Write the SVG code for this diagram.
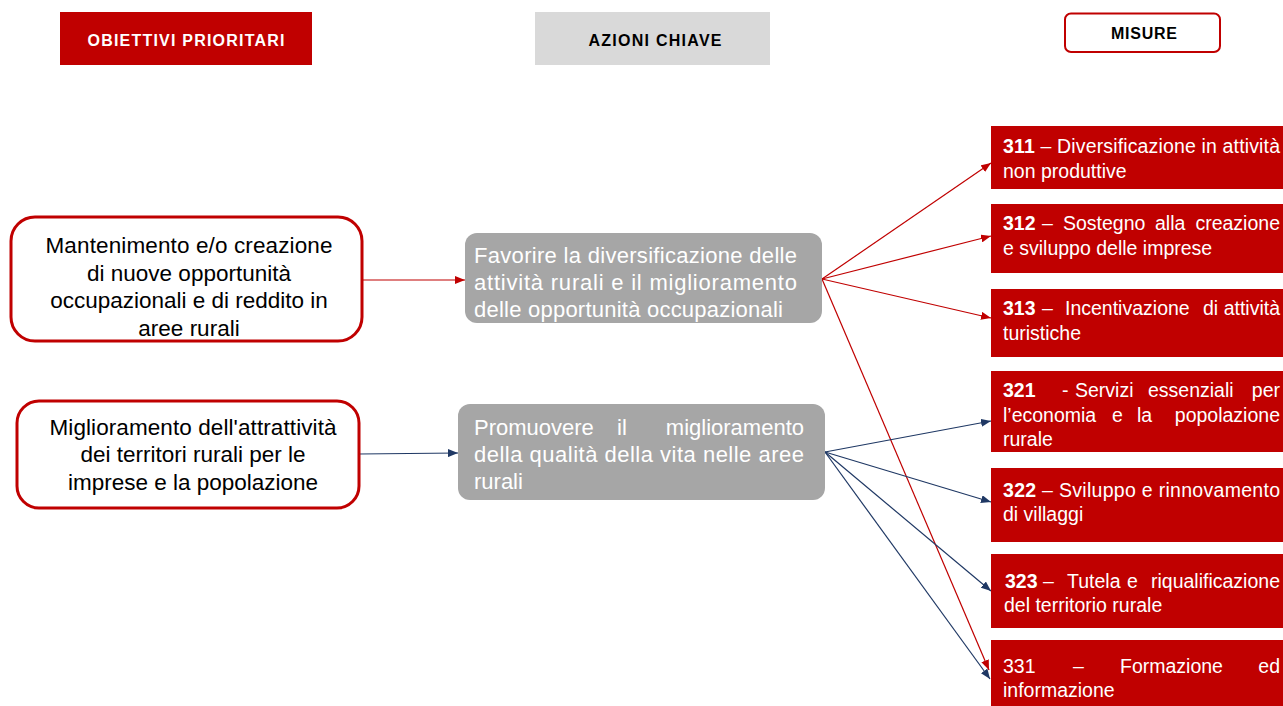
<svg xmlns="http://www.w3.org/2000/svg" width="1283" height="706" viewBox="0 0 1283 706">
<style>
text{font-family:"Liberation Sans",Arial,sans-serif;}
.hd{font-size:16px;font-weight:bold;text-anchor:middle;}
.obj{font-size:22.5px;fill:#000;text-anchor:middle;}
.act{font-size:22px;fill:#fff;}
.mes{font-size:19.5px;fill:#fff;}
.b{font-weight:bold;}
.e{text-anchor:end;}
.objbox{fill:#fff;stroke:#C00000;stroke-width:3;}
.actbox{fill:#A6A6A6;}
.mbox{fill:#C00000;}
.red{stroke:#C00000;stroke-width:1.2;fill:none;marker-end:url(#ar);}
.navy{stroke:#1F3864;stroke-width:1.2;fill:none;marker-end:url(#an);}
</style>
<defs>
<marker id="ar" markerUnits="userSpaceOnUse" markerWidth="10" markerHeight="8" refX="10" refY="4" orient="auto"><path d="M0,0 L10,4 L0,8 z" fill="#C00000"/></marker>
<marker id="an" markerUnits="userSpaceOnUse" markerWidth="10" markerHeight="8" refX="10" refY="4" orient="auto"><path d="M0,0 L10,4 L0,8 z" fill="#1F3864"/></marker>
</defs>
<rect width="1283" height="706" fill="#fff"/>

<g id="hdr-obiettivi">
<rect x="60" y="12" width="252" height="53" fill="#C00000"/>
<text class="hd" x="186" y="46" fill="#fff" textLength="197" lengthAdjust="spacing">OBIETTIVI  PRIORITARI</text>
</g>
<g id="hdr-azioni">
<rect x="535" y="12" width="235" height="53" fill="#D9D9D9"/>
<text class="hd" x="655" y="46" fill="#000" textLength="133" lengthAdjust="spacing">AZIONI  CHIAVE</text>
</g>
<g id="hdr-misure">
<rect x="1065" y="13.5" width="155" height="38.5" rx="6" fill="#fff" stroke="#C00000" stroke-width="2"/>
<text class="hd" x="1144" y="39" fill="#000" textLength="66" lengthAdjust="spacing">MISURE</text>
</g>

<g id="connectors">
<path class="red" d="M362 280 L465 280"/>
<path class="navy" d="M359 454 L458 453"/>
<path class="red" d="M822 279 L991 163"/>
<path class="red" d="M822 279 L991 236"/>
<path class="red" d="M822 279 L991 318"/>
<path class="red" d="M822 279 L989 670"/>
<path class="navy" d="M825 452 L991 421"/>
<path class="navy" d="M825 452 L991 502"/>
<path class="navy" d="M825 452 L991 591"/>
<path class="navy" d="M825 452 L990 679"/>
</g>

<g id="obj1">
<rect class="objbox" x="11" y="217" width="351" height="124" rx="24"/>
<text class="obj"><tspan x="189" y="253" textLength="287" lengthAdjust="spacing">Mantenimento e/o creazione</tspan><tspan x="189" y="280.5">di nuove opportunità</tspan><tspan x="189" y="308">occupazionali e di reddito in</tspan><tspan x="189" y="335.5">aree rurali</tspan></text>
</g>
<g id="obj2">
<rect class="objbox" x="17" y="401" width="342" height="107" rx="22"/>
<text class="obj"><tspan x="193" y="435" textLength="287" lengthAdjust="spacing">Miglioramento dell'attrattività</tspan><tspan x="193" y="462">dei territori rurali per le</tspan><tspan x="193" y="490">imprese e la popolazione</tspan></text>
</g>

<g id="act1">
<rect class="actbox" x="465" y="233" width="357" height="90" rx="12"/>
<text class="act"><tspan x="474" y="263" textLength="323" lengthAdjust="spacing">Favorire la diversificazione delle</tspan><tspan x="474" y="290" textLength="323" lengthAdjust="spacing">attività rurali e il miglioramento</tspan><tspan x="474" y="317" textLength="309" lengthAdjust="spacing">delle opportunità occupazionali</tspan></text>
</g>
<g id="act2">
<rect class="actbox" x="458" y="404" width="367" height="96" rx="12"/>
<text class="act"><tspan x="474" y="435">Promuovere</tspan><tspan x="617" y="435">il</tspan><tspan class="e" x="804" y="435">miglioramento</tspan><tspan x="474" y="462" textLength="330" lengthAdjust="spacing">della qualità della vita nelle aree</tspan><tspan x="474" y="489">rurali</tspan></text>
</g>

<g id="m311">
<rect class="mbox" x="991" y="126" width="292" height="63"/>
<text class="mes"><tspan x="1003" y="153" textLength="277" lengthAdjust="spacing"><tspan class="b">311</tspan> – Diversificazione in attività</tspan><tspan x="1003" y="178">non produttive</tspan></text>
</g>
<g id="m312">
<rect class="mbox" x="991" y="204" width="292" height="69"/>
<text class="mes"><tspan class="b" x="1003" y="230">312</tspan><tspan x="1042" y="230">–</tspan><tspan x="1063" y="230">Sostegno</tspan><tspan x="1155" y="230">alla</tspan><tspan class="e" x="1280" y="230">creazione</tspan><tspan x="1003" y="255">e sviluppo delle imprese</tspan></text>
</g>
<g id="m313">
<rect class="mbox" x="991" y="289" width="292" height="68"/>
<text class="mes"><tspan class="b" x="1003" y="315">313</tspan><tspan x="1042" y="315">–</tspan><tspan x="1065" y="315">Incentivazione</tspan><tspan x="1203" y="315">di</tspan><tspan class="e" x="1280" y="315">attività</tspan><tspan x="1003" y="340">turistiche</tspan></text>
</g>
<g id="m321">
<rect class="mbox" x="991" y="371" width="292" height="81"/>
<text class="mes"><tspan class="b" x="1003" y="397">321</tspan><tspan x="1062" y="397">-</tspan><tspan x="1075" y="397">Servizi</tspan><tspan x="1148" y="397">essenziali</tspan><tspan class="e" x="1280" y="397">per</tspan><tspan x="1003" y="422">l’economia</tspan><tspan x="1112" y="422">e</tspan><tspan x="1137" y="422">la</tspan><tspan class="e" x="1280" y="422">popolazione</tspan><tspan x="1003" y="446">rurale</tspan></text>
</g>
<g id="m322">
<rect class="mbox" x="991" y="468" width="292" height="74"/>
<text class="mes"><tspan x="1003" y="497" textLength="277" lengthAdjust="spacing"><tspan class="b">322</tspan> – Sviluppo e rinnovamento</tspan><tspan x="1003" y="521">di villaggi</tspan></text>
</g>
<g id="m323">
<rect class="mbox" x="991" y="554" width="292" height="74"/>
<text class="mes"><tspan class="b" x="1005" y="588">323</tspan><tspan x="1043" y="588">–</tspan><tspan x="1067" y="588">Tutela</tspan><tspan x="1127" y="588">e</tspan><tspan class="e" x="1280" y="588">riqualificazione</tspan><tspan x="1004" y="612">del territorio rurale</tspan></text>
</g>
<g id="m331">
<rect class="mbox" x="991" y="640" width="292" height="66"/>
<text class="mes"><tspan x="1003" y="673">331</tspan><tspan x="1073" y="673">–</tspan><tspan x="1120" y="673">Formazione</tspan><tspan class="e" x="1280" y="673">ed</tspan><tspan x="1003" y="697">informazione</tspan></text>
</g>
</svg>
